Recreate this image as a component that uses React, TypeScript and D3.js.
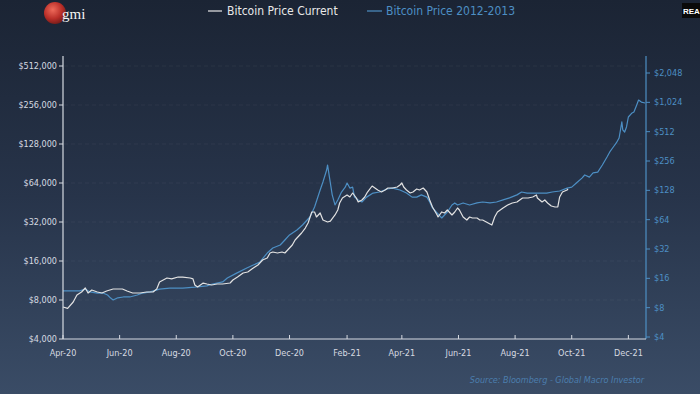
import React from "react";
import * as d3 from "d3";

const leftTicks = [4000, 8000, 16000, 32000, 64000, 128000, 256000, 512000];
const rightTicks = [4, 8, 16, 32, 64, 128, 256, 512, 1024, 2048];
const xTickDates = ["2020-04-01","2020-06-01","2020-08-01","2020-10-01","2020-12-01","2021-02-01","2021-04-01","2021-06-01","2021-08-01","2021-10-01","2021-12-01"];

const currentDates = ["2020-04-01","2020-04-06","2020-04-12","2020-04-16","2020-04-21","2020-04-25","2020-04-28","2020-05-02","2020-05-08","2020-05-13","2020-05-18","2020-05-25","2020-06-04","2020-06-09","2020-06-15","2020-06-23","2020-06-30","2020-07-07","2020-07-11","2020-07-14","2020-07-18","2020-07-22","2020-07-27","2020-08-03","2020-08-08","2020-08-16","2020-08-19","2020-08-21","2020-08-24","2020-08-30","2020-09-03","2020-09-08","2020-09-14","2020-09-20","2020-09-28","2020-10-01","2020-10-06","2020-10-12","2020-10-17","2020-10-23","2020-10-28","2020-11-02","2020-11-07","2020-11-10","2020-11-13","2020-11-18","2020-11-23","2020-11-26","2020-11-29","2020-12-04","2020-12-07","2020-12-10","2020-12-14","2020-12-18","2020-12-21","2020-12-25","2020-12-28","2020-12-30","2021-01-03","2021-01-06","2021-01-11","2021-01-14","2021-01-19","2021-01-22","2021-01-24","2021-01-27","2021-02-01","2021-02-04","2021-02-07","2021-02-11","2021-02-13","2021-02-17","2021-02-20","2021-02-23","2021-02-28","2021-03-03","2021-03-06","2021-03-10","2021-03-14","2021-03-17","2021-03-22","2021-03-27","2021-03-30","2021-04-01","2021-04-03","2021-04-06","2021-04-10","2021-04-13","2021-04-17","2021-04-20","2021-04-24","2021-04-28","2021-05-01","2021-05-04","2021-05-09","2021-05-10","2021-05-14","2021-05-17","2021-05-20","2021-05-25","2021-05-28","2021-05-31","2021-06-02","2021-06-06","2021-06-10","2021-06-13","2021-06-16","2021-06-21","2021-06-24","2021-06-27","2021-07-01","2021-07-07","2021-07-10","2021-07-13","2021-07-19","2021-07-24","2021-07-29","2021-08-03","2021-08-06","2021-08-09","2021-08-15","2021-08-20","2021-08-24","2021-08-25","2021-08-30","2021-09-02","2021-09-05","2021-09-09","2021-09-13","2021-09-16","2021-09-18","2021-09-21","2021-09-26","2021-09-27"];
const currentValues = [7060,6900,7720,8750,9220,9900,9060,9550,9220,9060,9380,9730,9730,9380,9060,9060,9220,9220,9730,11000,11400,11830,11640,12030,12030,11830,11640,10440,10080,10810,10630,10450,10630,10630,10820,11420,12040,12930,13160,14130,14900,16290,16880,18450,18780,18450,18780,18450,19460,21260,23250,24510,26320,28750,31420,38240,38240,34980,37570,33150,32000,32500,36260,39620,44860,49020,51710,49920,53570,49020,45660,47330,49920,54530,60670,58560,56510,54530,56510,58560,58560,59580,61760,64000,59580,56510,53570,54530,57500,56510,58560,54530,47330,41790,36260,34980,38240,37570,39620,36260,38240,41060,39620,34980,33150,34980,34370,34370,33150,33150,32000,30330,34980,38240,41060,43300,44860,45660,47330,49020,49020,49920,51710,49020,45660,47330,44860,42530,41790,41790,49920,54530,56510,57500];

const pastDates = ["2020-04-01","2020-04-09","2020-04-19","2020-04-25","2020-04-30","2020-05-08","2020-05-14","2020-05-19","2020-05-22","2020-05-25","2020-05-30","2020-06-05","2020-06-12","2020-06-20","2020-06-26","2020-07-04","2020-07-14","2020-07-25","2020-08-08","2020-08-21","2020-09-03","2020-09-09","2020-09-20","2020-09-25","2020-10-05","2020-10-16","2020-10-23","2020-10-30","2020-11-07","2020-11-13","2020-11-21","2020-11-26","2020-12-01","2020-12-09","2020-12-15","2020-12-23","2020-12-28","2021-01-03","2021-01-06","2021-01-10","2021-01-11","2021-01-13","2021-01-16","2021-01-19","2021-01-22","2021-01-26","2021-01-30","2021-02-01","2021-02-04","2021-02-07","2021-02-09","2021-02-13","2021-02-17","2021-02-22","2021-03-01","2021-03-08","2021-03-16","2021-03-22","2021-03-30","2021-04-06","2021-04-12","2021-04-17","2021-04-22","2021-04-28","2021-05-01","2021-05-04","2021-05-09","2021-05-14","2021-05-17","2021-05-20","2021-05-25","2021-05-28","2021-05-31","2021-06-06","2021-06-13","2021-06-21","2021-06-27","2021-07-05","2021-07-12","2021-07-19","2021-07-26","2021-08-03","2021-08-08","2021-08-14","2021-08-20","2021-08-27","2021-09-04","2021-09-10","2021-09-18","2021-09-26","2021-10-01","2021-10-06","2021-10-12","2021-10-15","2021-10-20","2021-10-24","2021-10-29","2021-11-03","2021-11-08","2021-11-11","2021-11-14","2021-11-18","2021-11-21","2021-11-24","2021-11-25","2021-11-27","2021-11-29","2021-12-01","2021-12-05","2021-12-07","2021-12-10","2021-12-12","2021-12-15","2021-12-19"];
const pastValues = [11.9,11.9,11.9,12.4,11.6,11.3,11.3,10.8,10.1,9.6,10.1,10.3,10.3,10.8,11.3,11.6,12.4,12.7,12.7,13.0,13.4,14.0,14.7,16.1,18.1,20.4,21.9,23.5,29.1,32.8,35.2,39.6,44.6,50.1,56.4,68.2,86.4,129,156,207,233,175,115,90.6,102,123,138,152,135,138,109,102,97.2,109,120,123,132,135,129,120,109,109,115,109,97.2,84.4,74.9,66.6,71.5,76.7,90.6,95.0,90.6,95.0,90.6,95.0,97.2,95.0,97.2,102,107,115,123,120,120,120,120,123,126,135,138,152,171,184,175,193,197,233,281,317,348,392,441,644,533,508,572,724,797,816,962,1081,1031,1008];

const W = 700, H = 394;
const FONT = "'Liberation Sans Narrow', 'DejaVu Sans Condensed', 'Roboto', sans-serif";
const parse = d3.timeParse("%Y-%m-%d");

export default function App() {
  const x = d3.scaleTime()
    .domain([parse("2020-04-01")!, parse("2021-12-20")!])
    .range([63, 646]);
  const yL = d3.scaleLog().base(2).domain([4000, 512000]).range([339, 66]);
  const yR = d3.scaleLog().base(2).domain([4, 2048]).range([337, 73]);

  const cur = currentDates.map((d, i) => ({ d: parse(d)!, v: currentValues[i] }));
  const past = pastDates.map((d, i) => ({ d: parse(d)!, v: pastValues[i] }));

  const lineL = d3.line<{ d: Date; v: number }>().x(p => x(p.d)).y(p => yL(p.v));
  const lineR = d3.line<{ d: Date; v: number }>().x(p => x(p.d)).y(p => yR(p.v));

  const fmt = (v: number) => "$" + d3.format(",")(v);
  const fmtX = d3.timeFormat("%b-%y");

  const axisColor = "#d6dae1";
  const blue = "#4d8fc4";

  return (
    <svg width={W} height={H} style={{ position: "absolute", left: 0, top: 0 }} fontFamily={FONT}>
      <defs>
        <linearGradient id="bg" x1="0" y1="0" x2="0" y2="1">
          <stop offset="0" stopColor="#1b2434" />
          <stop offset="0.5" stopColor="#27344a" />
          <stop offset="1" stopColor="#3a4c66" />
        </linearGradient>
        <radialGradient id="ball" cx="0.4" cy="0.35" r="0.7">
          <stop offset="0" stopColor="#ee6a5a" />
          <stop offset="0.6" stopColor="#b92e28" />
          <stop offset="1" stopColor="#6e1a18" />
        </radialGradient>
      </defs>
      <rect x={0} y={0} width={W} height={H} fill="url(#bg)" />

      {/* logo */}
      <circle cx={55} cy={13} r={11} fill="url(#ball)" />
      <text x={62} y={19} fill="#f4f4f4" fontFamily="'Liberation Serif', 'DejaVu Serif', serif" fontSize={15}>gmi</text>

      {/* REA badge */}
      <rect x={682} y={3} width={18} height={15} fill="#0a0a0a" />
      <text x={683} y={14} fill="#ffffff" fontSize={8} fontWeight="bold" fontFamily="'Liberation Sans', sans-serif">REA</text>

      {/* legend */}
      <line x1={208} x2={222} y1={11} y2={11} stroke="#e8e8e8" strokeWidth={1.2} />
      <text x={227} y={15} fill="#e8e8e8" fontSize={12}>Bitcoin Price Current</text>
      <line x1={367} x2={382} y1={11} y2={11} stroke={blue} strokeWidth={1.2} />
      <text x={386} y={15} fill={blue} fontSize={12}>Bitcoin Price 2012-2013</text>

      {/* gridlines */}
      {leftTicks.slice(1).map(t => (
        <line key={"g" + t} x1={64} x2={645} y1={yL(t)} y2={yL(t)} stroke="#ffffff" strokeOpacity={0.05} strokeDasharray="4,3" />
      ))}

      {/* lines */}
      <path d={lineR(past)!} fill="none" stroke={blue} strokeWidth={1.2} strokeLinejoin="round" />
      <path d={lineL(cur)!} fill="none" stroke="#e2e2e2" strokeWidth={1.2} strokeLinejoin="round" />

      {/* left axis */}
      <line x1={63} x2={63} y1={56} y2={339} stroke={axisColor} strokeWidth={1.2} />
      {leftTicks.map(t => (
        <g key={"l" + t}>
          <line x1={59} x2={63} y1={yL(t)} y2={yL(t)} stroke={axisColor} />
          <text x={57} y={yL(t) + 3} textAnchor="end" fill={axisColor} fontSize={9}>{fmt(t)}</text>
        </g>
      ))}

      {/* right axis */}
      <line x1={646} x2={646} y1={56} y2={339} stroke={blue} strokeWidth={1.2} />
      {rightTicks.map(t => (
        <g key={"r" + t}>
          <line x1={646} x2={650} y1={yR(t)} y2={yR(t)} stroke={blue} />
          <text x={654} y={yR(t) + 3} fill={blue} fontSize={9}>{fmt(t)}</text>
        </g>
      ))}

      {/* x axis */}
      <line x1={63} x2={646} y1={339} y2={339} stroke={axisColor} strokeWidth={1.2} />
      {xTickDates.map(s => {
        const d = parse(s)!;
        return (
          <g key={"x" + s}>
            <line x1={x(d)} x2={x(d)} y1={335} y2={339} stroke={axisColor} />
            <text x={x(d)} y={356} textAnchor="middle" fill={axisColor} fontSize={9}>{fmtX(d)}</text>
          </g>
        );
      })}

      {/* source */}
      <text x={644} y={383} textAnchor="end" fill="#4c7eae" fontSize={9} fontStyle="italic">Source: Bloomberg - Global Macro Investor</text>
    </svg>
  );
}
